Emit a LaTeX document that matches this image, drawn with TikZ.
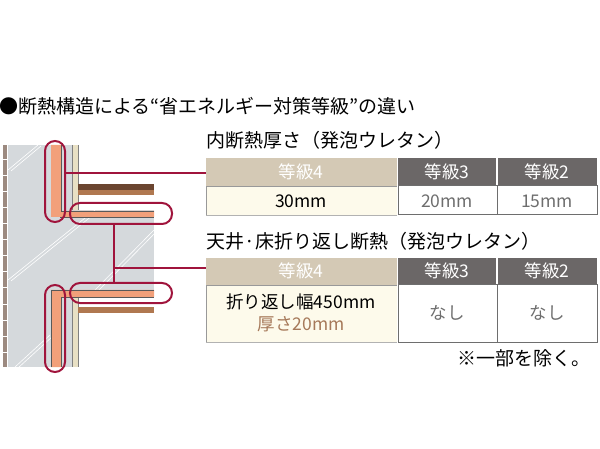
\documentclass[tikz,border=0pt]{standalone}
\usepackage{fontspec}
\setmainfont{Noto Sans CJK JP}
\definecolor{crim}{HTML}{A0143C}
\definecolor{orng}{HTML}{F2A07A}
\definecolor{conc}{HTML}{D5D9DC}
\definecolor{board}{HTML}{E8E0C4}
\definecolor{bdark}{HTML}{6B4530}
\definecolor{blight}{HTML}{B07850}
\definecolor{tanh}{HTML}{D4C9B5}
\definecolor{dgray}{HTML}{6B6767}
\definecolor{cream}{HTML}{FDFAEB}
\definecolor{txtg}{HTML}{6E6E6E}
\definecolor{brick}{HTML}{9C8A80}
\begin{document}
\begin{tikzpicture}[x=1pt,y=-1pt,
  oval/.style={draw=crim,line width=2pt,rounded corners=10pt},
  lead/.style={draw=crim,line width=2pt},
  hdr/.style={font=\fontsize{17.5}{17.5}\selectfont,text=white},
  cell/.style={font=\fontsize{17.5}{17.5}\selectfont},
  ttl/.style={font=\fontsize{19}{19}\selectfont,anchor=west}]
\useasboundingbox (0,0) rectangle (600,449);
% wall
\fill[brick] (3,145) rectangle (7,367);
\foreach \y in {160,176,192,208,224,240,256,272,288,304,320,336,352}
  \draw[white,line width=1pt] (3,\y) -- (7,\y);
\fill[conc] (8,145) rectangle (72,367);
\fill[conc] (72,210) rectangle (154,290);
\foreach \a/\b/\c/\d in {8/170/38/145, 8/280/95/210, 95/290/154/230, 15/367/50/335}
  \draw[white,line width=0.6pt] (\a,\b) -- (\c,\d) (\a+3,\b+1) -- (\c+3,\d+1);
% boards
\fill[board] (72,145) rectangle (78,210);
\fill[board] (72,297) rectangle (78,367);
\draw[gray] (72,145) -- (72,210) (78,145) -- (78,210) (72,297) -- (72,367) (78,297) -- (78,367);
\fill[bdark] (78,184) rectangle (154,190);
\fill[blight] (78,190) rectangle (154,195);
\fill[blight] (78,307) rectangle (154,313);
% insulation upper
\fill[orng] (51,145) rectangle (61,217) (61,211) rectangle (154,217);
\draw[gray!70!black] (61,145) -- (61,211) -- (154,211);
\draw[gray!70!black] (60,217) -- (154,217);
% insulation lower
\fill[orng] (51,290) rectangle (61,367) (61,290) rectangle (154,297);
\draw[gray!70!black] (51,367) -- (51,290) -- (154,290) (61,367) -- (61,297) -- (154,297);
% ovals
\draw[oval] (45,141) rectangle (65,222);
\draw[oval] (70,203) rectangle (172,224);
\draw[oval] (70,283) rectangle (172,303);
\draw[oval] (45,285) rectangle (65,372);
\coordinate (c1) at (65,173);
\coordinate (c2) at (114,224);
\coordinate (c3) at (114,283);
\coordinate (c4) at (114,268);
% title
\node[ttl] (title) at (-4,106) {●断熱構造による“省エネルギー対策等級”の違い};
\node[ttl] (sub1) at (203,140) {内断熱厚さ（発泡ウレタン）};
\node[ttl] (sub2) at (203,241) {天井·床折り返し断熱（発泡ウレタン）};
% table 1
\fill[tanh] (206,158) rectangle (397,186);
\fill[dgray] (398,158) rectangle (597,186);
\fill[cream] (206,186) rectangle (397,215);
\draw[white,line width=1.5pt] (497,158) -- (497,186);
\draw[gray!80] (206,215) -- (206,186) -- (397,186);
\draw[txtg,line width=1pt] (398,186) rectangle (597,215) (497,186) -- (497,215);
\draw[gray!60] (206,215) -- (397,215);
\node[hdr] (h11) at (301,172) {等級4};
\node[hdr] (h12) at (447,172) {等級3};
\node[hdr] (h13) at (547,172) {等級2};
\node[cell] (b11) at (301,201) {30mm};
\node[cell,text=txtg] (b12) at (447,201) {20mm};
\node[cell,text=txtg] (b13) at (547,201) {15mm};
% table 2
\fill[tanh] (206,258) rectangle (397,285);
\fill[dgray] (398,258) rectangle (597,285);
\fill[cream] (206,285) rectangle (397,342);
\draw[white,line width=1.5pt] (497,258) -- (497,285);
\draw[gray!80] (206,342) -- (206,285) -- (397,285);
\draw[txtg,line width=1pt] (398,285) rectangle (597,342) (497,285) -- (497,342);
\draw[gray!60] (206,342) -- (397,342);
\node[hdr] (h21) at (301,271) {等級4};
\node[hdr] (h22) at (447,271) {等級3};
\node[hdr] (h23) at (547,271) {等級2};
\node[cell,inner sep=0pt] (b21) at (301,302) {折り返し幅450mm};
\node[cell,inner sep=0pt,text=blight!80!gray] (b21b) at (301,324) {厚さ20mm};
\node[cell,text=txtg] (b22) at (447,313) {なし};
\node[cell,text=txtg] (b23) at (547,313) {なし};
\node[font=\fontsize{19}{19}\selectfont,anchor=east] (note) at (594,358) {※一部を除く。};
% leaders
\draw[lead] (c1) -- (206,173);
\draw[lead] (c2) -- (c3);
\draw[lead] (c4) -- (206,268);
\end{tikzpicture}
\end{document}
